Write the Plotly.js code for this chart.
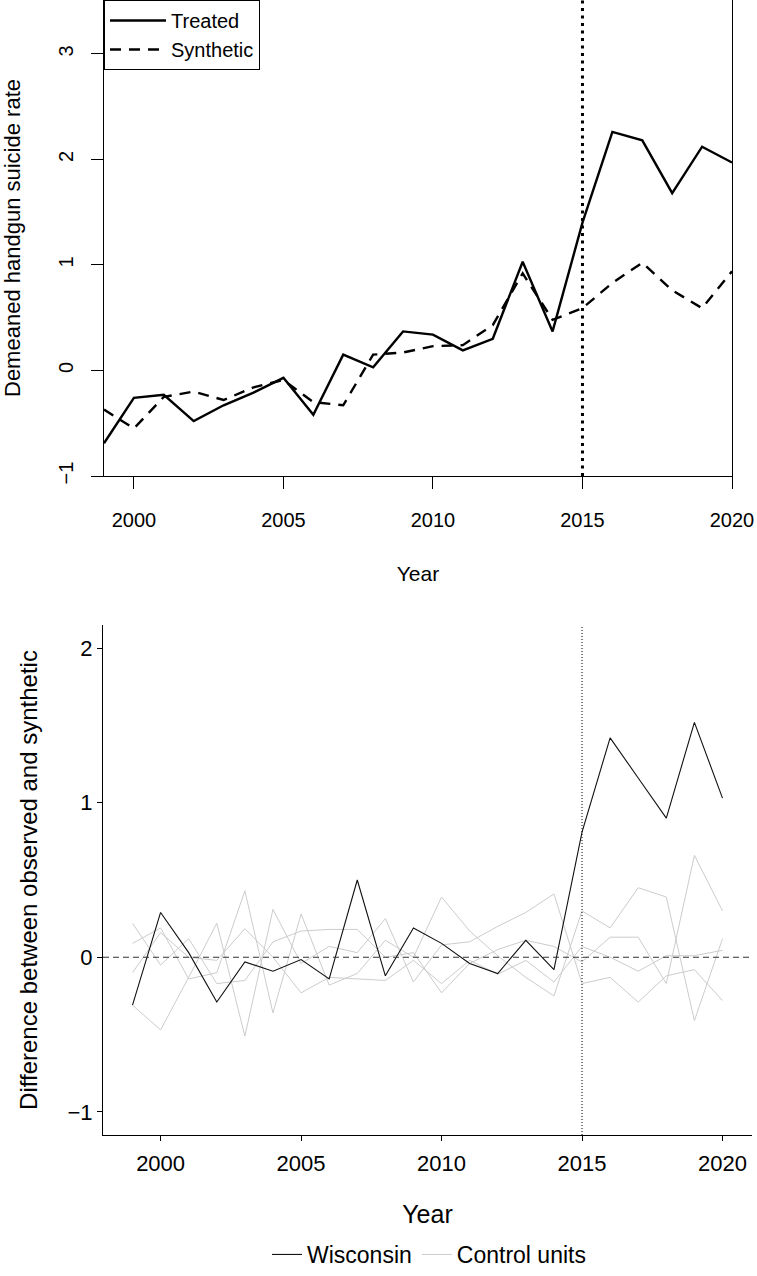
<!DOCTYPE html>
<html><head><meta charset="utf-8">
<script src="https://cdn.plot.ly/plotly-3.0.1.min.js"></script>
<style>html,body{margin:0;padding:0;background:#fff}#chart{width:757px;height:1276px}</style>
</head><body><div id="chart"></div>
<script>
// ---- data ----
const years = [1999,2000,2001,2002,2003,2004,2005,2006,2007,2008,2009,2010,2011,2012,2013,2014,2015,2016,2017,2018,2019,2020];
const treated   = [-0.69,-0.26,-0.23,-0.48,-0.33,-0.21,-0.07,-0.42,0.15,0.03,0.37,0.34,0.19,0.30,1.03,0.37,1.40,2.26,2.18,1.68,2.12,1.97];
const synthetic = [-0.37,-0.55,-0.25,-0.20,-0.28,-0.16,-0.09,-0.30,-0.33,0.15,0.17,0.23,0.24,0.43,0.92,0.48,0.59,0.83,1.02,0.76,0.59,0.94];
const wisconsinGap = [-0.31,0.29,0.03,-0.29,-0.03,-0.09,-0.015,-0.14,0.50,-0.12,0.19,0.09,-0.04,-0.105,0.11,-0.08,0.81,1.42,1.16,0.90,1.52,1.03];
const control1 = [-0.31,-0.47,-0.13,0.22,-0.51,0.31,-0.04,0.07,0.03,0.25,-0.16,0.08,0.10,0.20,0.29,0.41,-0.17,-0.13,-0.29,-0.12,-0.08,-0.28];
const control2 = [0.09,0.19,-0.14,-0.10,0.43,-0.36,0.28,-0.18,-0.105,0.11,0.00,0.39,0.17,0.01,-0.13,-0.25,0.30,0.19,0.45,0.39,-0.41,0.12];
const control3 = [0.22,-0.05,0.12,-0.17,-0.15,0.10,0.17,0.18,0.18,0.00,0.03,-0.23,-0.04,0.05,0.11,0.07,-0.03,0.13,0.13,-0.17,0.66,0.30];
const control4 = [-0.10,0.16,0.00,-0.02,0.185,0.00,-0.23,-0.13,-0.14,-0.15,-0.02,-0.17,-0.02,-0.11,-0.02,-0.16,0.07,0.00,-0.09,0.01,0.01,0.045];
const controls = [control1, control2, control3, control4];
const xTicks = [2000,2005,2010,2015,2020];
const yTicksTop = [-1,0,1,2,3];
const yTicksBottom = [-1,0,1,2];
const treatmentYear = 2015;
const refLevel = 0;

const FONT = 'Liberation Sans, Arial, Helvetica, sans-serif';
const W = 757, H = 1276;

const traces = [
  {x: years, y: treated, type: 'scatter', mode: 'lines', name: 'Treated',
   line: {color: '#000', width: 2.4}, xaxis: 'x', yaxis: 'y', legend: 'legend'},
  {x: years, y: synthetic, type: 'scatter', mode: 'lines', name: 'Synthetic',
   line: {color: '#000', width: 2.4, dash: '11px,8px'}, xaxis: 'x', yaxis: 'y', legend: 'legend'}
];
controls.forEach((c, i) => traces.push({
  x: years, y: c, type: 'scatter', mode: 'lines', name: 'Control units',
  legendgroup: 'ctrl', showlegend: i === 0, legendrank: 2,
  line: {color: '#cccccc', width: 1}, xaxis: 'x2', yaxis: 'y2', legend: 'legend2'
}));
traces.push({x: years, y: wisconsinGap, type: 'scatter', mode: 'lines', name: 'Wisconsin',
  legendrank: 1, line: {color: '#111', width: 1.1}, xaxis: 'x2', yaxis: 'y2', legend: 'legend2'});

const layout = {
  width: W, height: H,
  margin: {l: 0, r: 0, t: 0, b: 0},
  paper_bgcolor: '#fff', plot_bgcolor: '#fff',
  font: {family: FONT, color: '#000'},
  showlegend: true,
  xaxis: {
    domain: [104/W, 732/W], anchor: 'y', range: [1999, 2020],
    tickmode: 'array', tickvals: xTicks, ticks: 'outside', ticklen: 12, tickcolor: '#000', tickwidth: 1,
    showline: true, mirror: true, linecolor: '#000', linewidth: 1,
    showgrid: false, zeroline: false, automargin: false, ticklabelstandoff: 14,
    tickfont: {size: 20, color: '#000'},
    title: {text: 'Year', font: {size: 21, color: '#000'}, standoff: 36}
  },
  yaxis: {
    domain: [1 - 476/H, 1], anchor: 'x', range: [-1, 3.51],
    tickmode: 'array', tickvals: yTicksTop, ticks: 'outside', ticklen: 12, tickcolor: '#000', tickwidth: 1,
    tickangle: -90, ticklabelstandoff: 10,
    showline: true, mirror: true, linecolor: '#000', linewidth: 1,
    showgrid: false, zeroline: false, automargin: false,
    tickfont: {size: 20, color: '#000'},
    title: {text: 'Demeaned handgun suicide rate', font: {size: 22, color: '#000'}, standoff: 30}
  },
  xaxis2: {
    domain: [103/W, 752/W], anchor: 'y2', range: [1997.95, 2021.05],
    tickmode: 'array', tickvals: xTicks, ticks: 'outside', ticklen: 5, tickcolor: '#000', tickwidth: 1,
    showline: true, mirror: false, linecolor: '#000', linewidth: 1,
    showgrid: false, zeroline: false, automargin: false, ticklabelstandoff: 4,
    tickfont: {size: 22, color: '#000'},
    title: {text: 'Year', font: {size: 25, color: '#000'}, standoff: 30}
  },
  yaxis2: {
    domain: [1 - 1135/H, 1 - 625/H], anchor: 'x2', range: [-1.15, 2.15],
    tickmode: 'array', tickvals: yTicksBottom, ticks: 'outside', ticklen: 5, tickcolor: '#000', tickwidth: 1,
    showline: true, mirror: false, linecolor: '#000', linewidth: 1,
    showgrid: false, zeroline: false, automargin: false,
    tickfont: {size: 22, color: '#000'},
    title: {text: 'Difference between observed and synthetic', font: {size: 24, color: '#000'}, standoff: 23}
  },
  legend: {
    x: 104/W, y: 1, xanchor: 'left', yanchor: 'top',
    bgcolor: '#fff', bordercolor: '#000', borderwidth: 1, itemwidth: 56,
    font: {size: 20, color: '#000'}, tracegroupgap: 0
  },
  legend2: {
    orientation: 'h', x: 429/W, xanchor: 'center', y: 0, yanchor: 'bottom',
    bgcolor: 'rgba(0,0,0,0)', font: {size: 23, color: '#000'}
  },
  shapes: [
    {type: 'line', xref: 'x', yref: 'y domain', x0: treatmentYear, x1: treatmentYear, y0: 0, y1: 1,
     line: {color: '#000', width: 3, dash: '3px,4.5px'}},
    {type: 'line', xref: 'x2', yref: 'y2 domain', x0: treatmentYear, x1: treatmentYear, y0: 0, y1: 1,
     line: {color: '#000', width: 1, dash: '1px,2px'}},
    {type: 'line', xref: 'x2 domain', yref: 'y2', x0: 0, x1: 1, y0: refLevel, y1: refLevel,
     line: {color: '#333', width: 1.2, dash: '6px,4px'}}
  ]
};

Plotly.newPlot('chart', traces, layout, {staticPlot: true, displayModeBar: false});
</script></body></html>
